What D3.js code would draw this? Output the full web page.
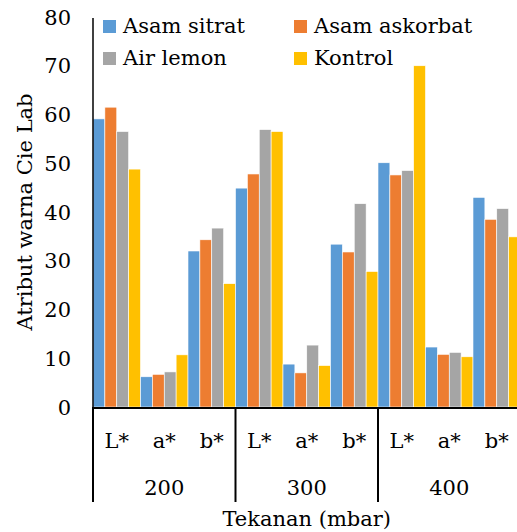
<!DOCTYPE html>
<meta charset="utf-8" />
<script src="https://cdn.jsdelivr.net/npm/d3@7"></script>
<style>
  body { margin: 0; background: #fff; }
  svg text { font-family: "DejaVu Serif", serif; fill: #000; font-size: 21px; }
</style>
<div id="chart"></div>
<script>
  // data
  const pressures = ["200", "300", "400"];
  const attributes = ["L*", "a*", "b*"];
  const seriesNames = ["Asam sitrat", "Asam askorbat", "Air lemon", "Kontrol"];
  const colors = ["#5B9BD5", "#ED7D31", "#A5A5A5", "#FFC000"];
  const yTicks = [0, 10, 20, 30, 40, 50, 60, 70, 80];

  // values per series, ordered 200 L*, a*, b*, 300 L*, a*, b*, 400 L*, a*, b*
  const asamSitrat   = [59.1, 6.2, 32.0, 44.9, 8.8, 33.4, 50.1, 12.3, 43.0];
  const asamAskorbat = [61.5, 6.7, 34.3, 47.8, 7.0, 31.8, 47.6, 10.8, 38.5];
  const airLemon     = [56.5, 7.2, 36.7, 56.9, 12.7, 41.7, 48.5, 11.2, 40.7];
  const kontrol      = [48.8, 10.7, 25.3, 56.5, 8.5, 27.8, 70.0, 10.3, 34.9];
  const allSeries = [asamSitrat, asamAskorbat, airLemon, kontrol];

  const W = 517, H = 532;
  const plotLeft = 93, plotRight = 520.5, plotTop = 17, base = 407;

  const svg = d3.select("#chart").append("svg")
    .attr("width", W).attr("height", H);

  const y = d3.scaleLinear().domain([0, 80]).range([base, plotTop]);
  const x0 = d3.scaleBand().domain(pressures).range([plotLeft, plotRight]).padding(0);
  const x1 = d3.scaleBand().domain(attributes).range([0, x0.bandwidth()]).padding(0);
  const x2 = d3.scaleBand().domain(seriesNames).range([0, x1.bandwidth()]).padding(0);

  // flatten
  const rows = [];
  pressures.forEach((p, i) => {
    attributes.forEach((a, j) => {
      seriesNames.forEach((s, k) => {
        rows.push({ p: p, a: a, s: s, k: k, v: allSeries[k][i * 3 + j] });
      });
    });
  });

  // bars
  svg.append("g").selectAll("rect")
    .data(rows)
    .join("rect")
    .attr("x", d => x0(d.p) + x1(d.a) + x2(d.s))
    .attr("y", d => y(d.v))
    .attr("width", x2.bandwidth())
    .attr("height", d => base - y(d.v))
    .attr("fill", d => colors[d.k])
    .attr("stroke", "#fff")
    .attr("stroke-width", 0.6);

  // y axis: line + labels, no ticks
  svg.append("line")
    .attr("x1", plotLeft).attr("x2", plotLeft)
    .attr("y1", y(80) + 1).attr("y2", base)
    .attr("stroke", "#000").attr("stroke-width", 1.5);

  svg.append("g").selectAll("text")
    .data(yTicks)
    .join("text")
    .attr("x", 71)
    .attr("y", d => y(d))
    .attr("dy", "0.36em")
    .attr("text-anchor", "end")
    .text(d => d);

  // x axis: baseline and separators
  svg.append("line")
    .attr("x1", plotLeft).attr("x2", W)
    .attr("y1", base + 1).attr("y2", base + 1)
    .attr("stroke", "#000").attr("stroke-width", 2);

  const seps = pressures.map(p => x0(p)).concat([plotRight]);
  svg.append("g").selectAll("line")
    .data(seps)
    .join("line")
    .attr("x1", d => d).attr("x2", d => d)
    .attr("y1", base).attr("y2", 502)
    .attr("stroke", "#000").attr("stroke-width", 2);

  // attribute labels
  const attrRows = [];
  pressures.forEach(p => attributes.forEach(a => attrRows.push({ p: p, a: a })));
  svg.append("g").selectAll("text")
    .data(attrRows)
    .join("text")
    .attr("x", d => x0(d.p) + x1(d.a) + x1.bandwidth() / 2)
    .attr("y", 448)
    .attr("text-anchor", "middle")
    .text(d => d.a);

  // pressure labels
  svg.append("g").selectAll("text")
    .data(pressures)
    .join("text")
    .attr("x", d => x0(d) + x0.bandwidth() / 2)
    .attr("y", 495)
    .attr("text-anchor", "middle")
    .text(d => d);

  // axis titles
  svg.append("text")
    .attr("x", (plotLeft + plotRight) / 2)
    .attr("y", 526)
    .attr("text-anchor", "middle")
    .text("Tekanan (mbar)");

  svg.append("text")
    .attr("transform", "translate(32," + ((plotTop + base) / 2) + ") rotate(-90)")
    .attr("text-anchor", "middle")
    .text("Atribut warna Cie Lab");

  // legend, two columns
  const legendPos = [[103, 20], [294, 20], [103, 52], [294, 52]];
  const legend = svg.append("g").selectAll("g")
    .data(seriesNames)
    .join("g")
    .attr("transform", (d, i) => "translate(" + legendPos[i][0] + "," + legendPos[i][1] + ")");
  legend.append("rect")
    .attr("width", 13).attr("height", 13)
    .attr("fill", (d, i) => colors[i]);
  legend.append("text")
    .attr("x", 20).attr("y", 13)
    .text(d => d);
</script>
